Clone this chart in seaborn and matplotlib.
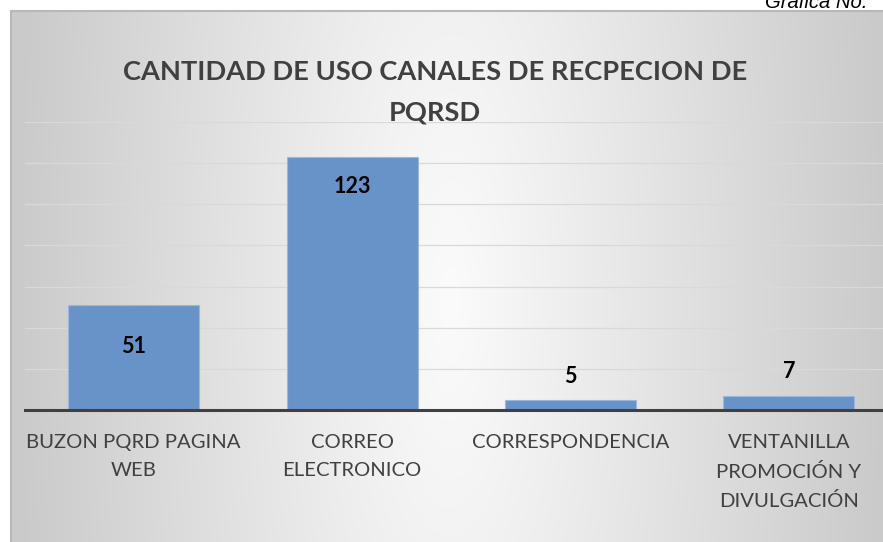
import numpy as np
import pandas as pd
import matplotlib
matplotlib.use("Agg")
import matplotlib.pyplot as plt
import seaborn as sns

categories = ["BUZON PQRD PAGINA\nWEB", "CORREO\nELECTRONICO", "CORRESPONDENCIA",
              "VENTANILLA\nPROMOCIÓN Y\nDIVULGACIÓN"]
values = [51, 123, 5, 7]
label_offsets = [-30, -21.5, 17, 17]   # points, relative to bar top
title = "CANTIDAD DE USO CANALES DE RECPECION DE\nPQRSD"
yticks = [0, 20, 40, 60, 80, 100, 120, 140]

sns.set_theme(style="white")
plt.rcParams["font.family"] = ["Lato", "DejaVu Sans"]

W, H = 883, 542
fig = plt.figure(figsize=(W / 100, H / 100), dpi=100)
fig.patch.set_facecolor("white")

# gradient background frame (light in the middle, grey at left/right edges)
fx0, fy0 = 11, 11
bg = fig.add_axes([fx0 / W, 0, (W - fx0) / W, (H - fy0) / H])
bg.set_axis_off()
xx, yy = np.meshgrid(np.arange(fx0, W), np.arange(fy0, H))
t = np.sqrt(((xx - 450) / 430) ** 2 + ((yy - 300) / 1400) ** 2)
t = np.clip(t, 0, 1)
g = 0.985 - 0.19 * t
img = np.dstack([g, g, g])
bg.imshow(img, aspect="auto", extent=[0, 1, 0, 1], origin="upper")
bg.set_xlim(0, 1); bg.set_ylim(0, 1)
fig.add_artist(plt.Line2D([fx0 / W, fx0 / W], [0, (H - fy0) / H], color="#b8b8b8", lw=1.5))
fig.add_artist(plt.Line2D([fx0 / W, 1], [(H - fy0) / H, (H - fy0) / H], color="#b8b8b8", lw=1.5))

# main axes
left, right = 24.5, 898
base, top = 410, 122
ax = fig.add_axes([left / W, (H - base) / H, (right - left) / W, (base - top) / H])
ax.patch.set_alpha(0)

df = pd.DataFrame({"cat": categories, "val": values})
sns.barplot(data=df, x="cat", y="val", ax=ax, color="#6793c8", saturation=1,
            width=0.6, edgecolor="#9bb8dc", linewidth=0.8, zorder=3)

ax.set_ylim(0, 140)
ax.set_yticks(yticks)
ax.set_yticklabels([])
ax.tick_params(axis="y", length=0)
ax.yaxis.grid(True, color="#d9d9d9", lw=0.9, zorder=0)
ax.set_axisbelow(True)
for s in ["left", "right", "top"]:
    ax.spines[s].set_visible(False)
ax.spines["bottom"].set_color("#404040")
ax.spines["bottom"].set_linewidth(2.2)
ax.spines["bottom"].set_zorder(5)
ax.set_xlabel("")
ax.set_ylabel("")
ax.set_xticks(range(len(categories)))
ax.set_xticklabels([""] * len(categories))
ax.tick_params(axis="x", length=0)

# category labels (multi-line, Excel-like spacing)
for i, cat in enumerate(categories):
    ax.annotate(cat, (i, 0), xycoords=("data", "axes fraction"),
                xytext=(0, -17.5), textcoords="offset points",
                ha="center", va="top", fontsize=14.6, color="#404040",
                linespacing=1.75, annotation_clip=False)

for i, (v, off) in enumerate(zip(values, label_offsets)):
    ax.annotate(str(v), (i, v), xytext=(0, off), textcoords="offset points",
                ha="center", va="center", fontsize=15.5, fontweight="bold",
                color="black", zorder=6)

fig.text(435 / W, 1 - 92 / H, title, ha="center", va="center", fontsize=19.6,
         fontweight="bold", color="#404040", linespacing=1.8)

fig.text(867 / W, 1 - 8 / H, "Grafica No.", ha="right", va="baseline",
         fontsize=14.6, style="italic", color="black",
         family=["Liberation Sans", "DejaVu Sans"])

fig.savefig("out.png", dpi=100)
